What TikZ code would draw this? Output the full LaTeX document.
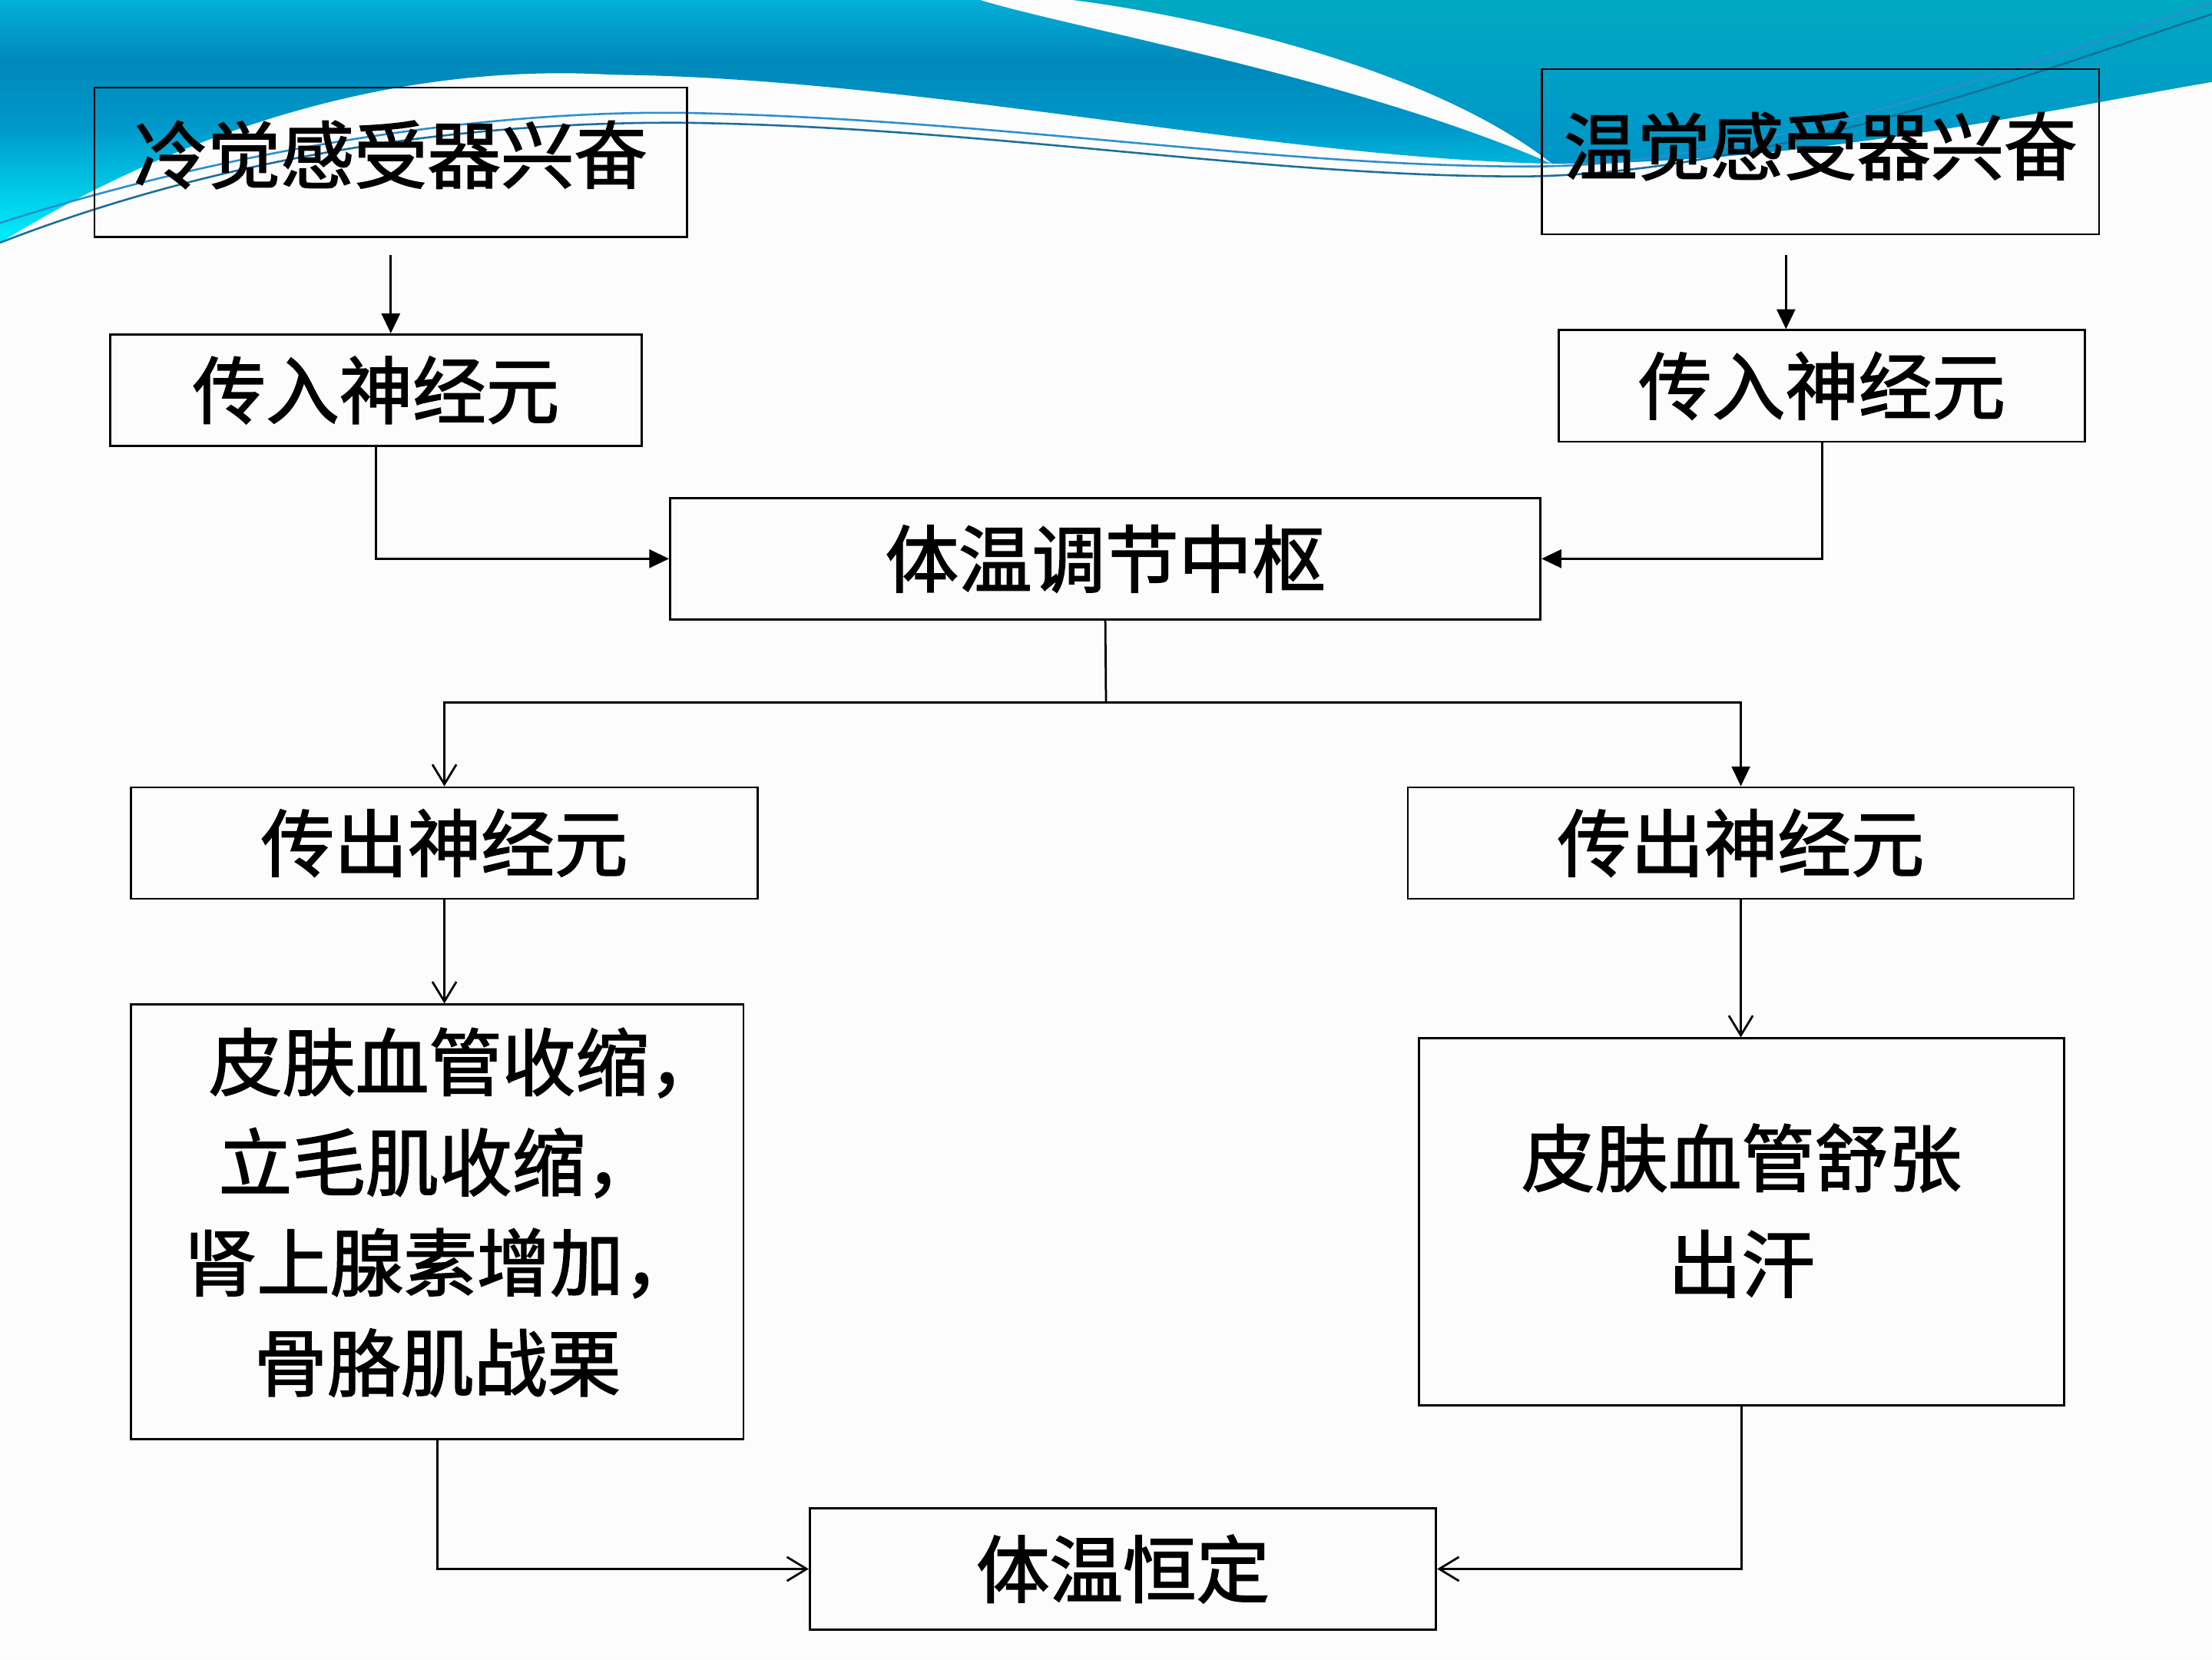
\documentclass[tikz,border=0pt]{standalone}
\usepackage{fontspec}
\usetikzlibrary{arrows.meta}
\newfontfamily\cjk[FakeBold=1.8]{Noto Sans CJK SC}
\definecolor{bgc}{HTML}{FCFCFC}
\definecolor{topc}{HTML}{04B0D6}
\definecolor{darkc}{HTML}{0088BA}
\definecolor{midc}{HTML}{0098CA}
\definecolor{cyanm}{HTML}{00D0EA}
\definecolor{cyanc}{HTML}{00E8F8}
\definecolor{tealt}{HTML}{00A9C2}
\definecolor{tealb}{HTML}{0094C8}
\definecolor{lineA}{HTML}{2A8FD0}
\definecolor{lineB}{HTML}{1A6F9A}
\pgfdeclareverticalshading{bgblue}{100bp}{color(0bp)=(cyanc); color(27bp)=(cyanc); color(34bp)=(cyanm); color(49bp)=(midc); color(62bp)=(darkc); color(75bp)=(topc); color(100bp)=(topc)}
\begin{document}
\begin{tikzpicture}[x=1pt,y=-1pt,
  box/.style={draw=black, line width=1.5pt, inner sep=0pt, font=\cjk\fontsize{52}{71}\selectfont},
  conn/.style={line width=1.5pt},
  solidtip/.style={conn, -{Triangle[length=14pt,width=13pt]}},
  opentip/.style={conn, -{Straight Barb[length=14pt,width=17pt]}}]
\useasboundingbox (0,0) rectangle (1568,1176);
\fill[bgc] (0,0) rectangle (1568,1176);
% background waves
\shade[shading=bgblue] (0,0) -- (1568,0) -- (1568,58) .. controls (1440,80) and (1280,116) .. (1100,116) .. controls (900,112) and (650,55) .. (435,53) .. controls (300,45) and (150,80) .. (0,172) -- cycle;
\shade[top color=tealt, bottom color=tealb] (760,0) -- (1568,0) -- (1568,58) .. controls (1440,80) and (1280,116) .. (1100,116) .. controls (1010,45) and (840,10) .. (760,0) -- cycle;
\fill[bgc] (695,0) -- (760,0) .. controls (840,10) and (1010,45) .. (1100,116) .. controls (960,55) and (760,20) .. (695,0) -- cycle;
\draw[lineA, line width=1.4pt] (0,158) .. controls (150,110) and (330,78) .. (485,80) .. controls (700,84) and (900,118) .. (1084,118) .. controls (1250,118) and (1450,40) .. (1568,2);
\draw[lineB, line width=1.4pt] (0,172) .. controls (160,110) and (330,86) .. (485,87) .. controls (700,90) and (900,126) .. (1084,125) .. controls (1260,122) and (1460,45) .. (1568,10);
% nodes
\node[box, minimum width=420pt, minimum height=106pt] (cold) at (277,115) {\raisebox{15pt}{冷觉感受器兴奋}};
\node[box, minimum width=395pt, minimum height=117pt] (warm) at (1290.5,107.5) {\raisebox{12pt}{温觉感受器兴奋}};
\node[box, minimum width=377pt, minimum height=79pt] (affL) at (266.5,276.5) {传入神经元};
\node[box, minimum width=373pt, minimum height=79pt] (affR) at (1291.5,273.5) {传入神经元};
\node[box, minimum width=617pt, minimum height=86pt] (center) at (783.5,396) {体温调节中枢};
\node[box, minimum width=444pt, minimum height=79pt] (effL) at (315,597.5) {传出神经元};
\node[box, minimum width=472pt, minimum height=79pt] (effR) at (1234,597.5) {传出神经元};
\node[box, minimum width=434pt, minimum height=308pt, text width=434pt, align=left] (respL) at (310,866) {\hspace*{55pt}皮肤血管收缩，\\ \hspace*{62pt}立毛肌收缩，\\ \hspace*{37pt}肾上腺素增加，\\ \hspace*{87pt}骨胳肌战栗\rule[-18pt]{0pt}{18pt}};
\node[box, minimum width=457pt, minimum height=260pt, align=center] (respR) at (1234.5,866) {皮肤血管舒张\\[4pt]出汗\rule[-20pt]{0pt}{20pt}};
\node[box, minimum width=444pt, minimum height=86pt] (stable) at (796,1112) {体温恒定};
% connectors
\coordinate (c1) at (277,181);
\coordinate (c2) at (1266,181);
\coordinate (split) at (784,498);
\draw[solidtip] (c1) -- (c1 |- affL.north);
\draw[solidtip] (c2) -- (c2 |- affR.north);
\draw[solidtip] (affL.south) |- (center.west);
\draw[solidtip] (affR.south) |- (center.east);
\draw[conn] (center.south) -- (split);
\draw[opentip] (split) -| (effL.north);
\draw[solidtip] (split) -| (effR.north);
\draw[opentip] (effL.south) -- (effL.south |- respL.north);
\draw[opentip] (effR.south) -- (effR.south |- respR.north);
\draw[opentip] (respL.south) |- (stable.west);
\draw[opentip] (respR.south) |- (stable.east);
\end{tikzpicture}
\end{document}
